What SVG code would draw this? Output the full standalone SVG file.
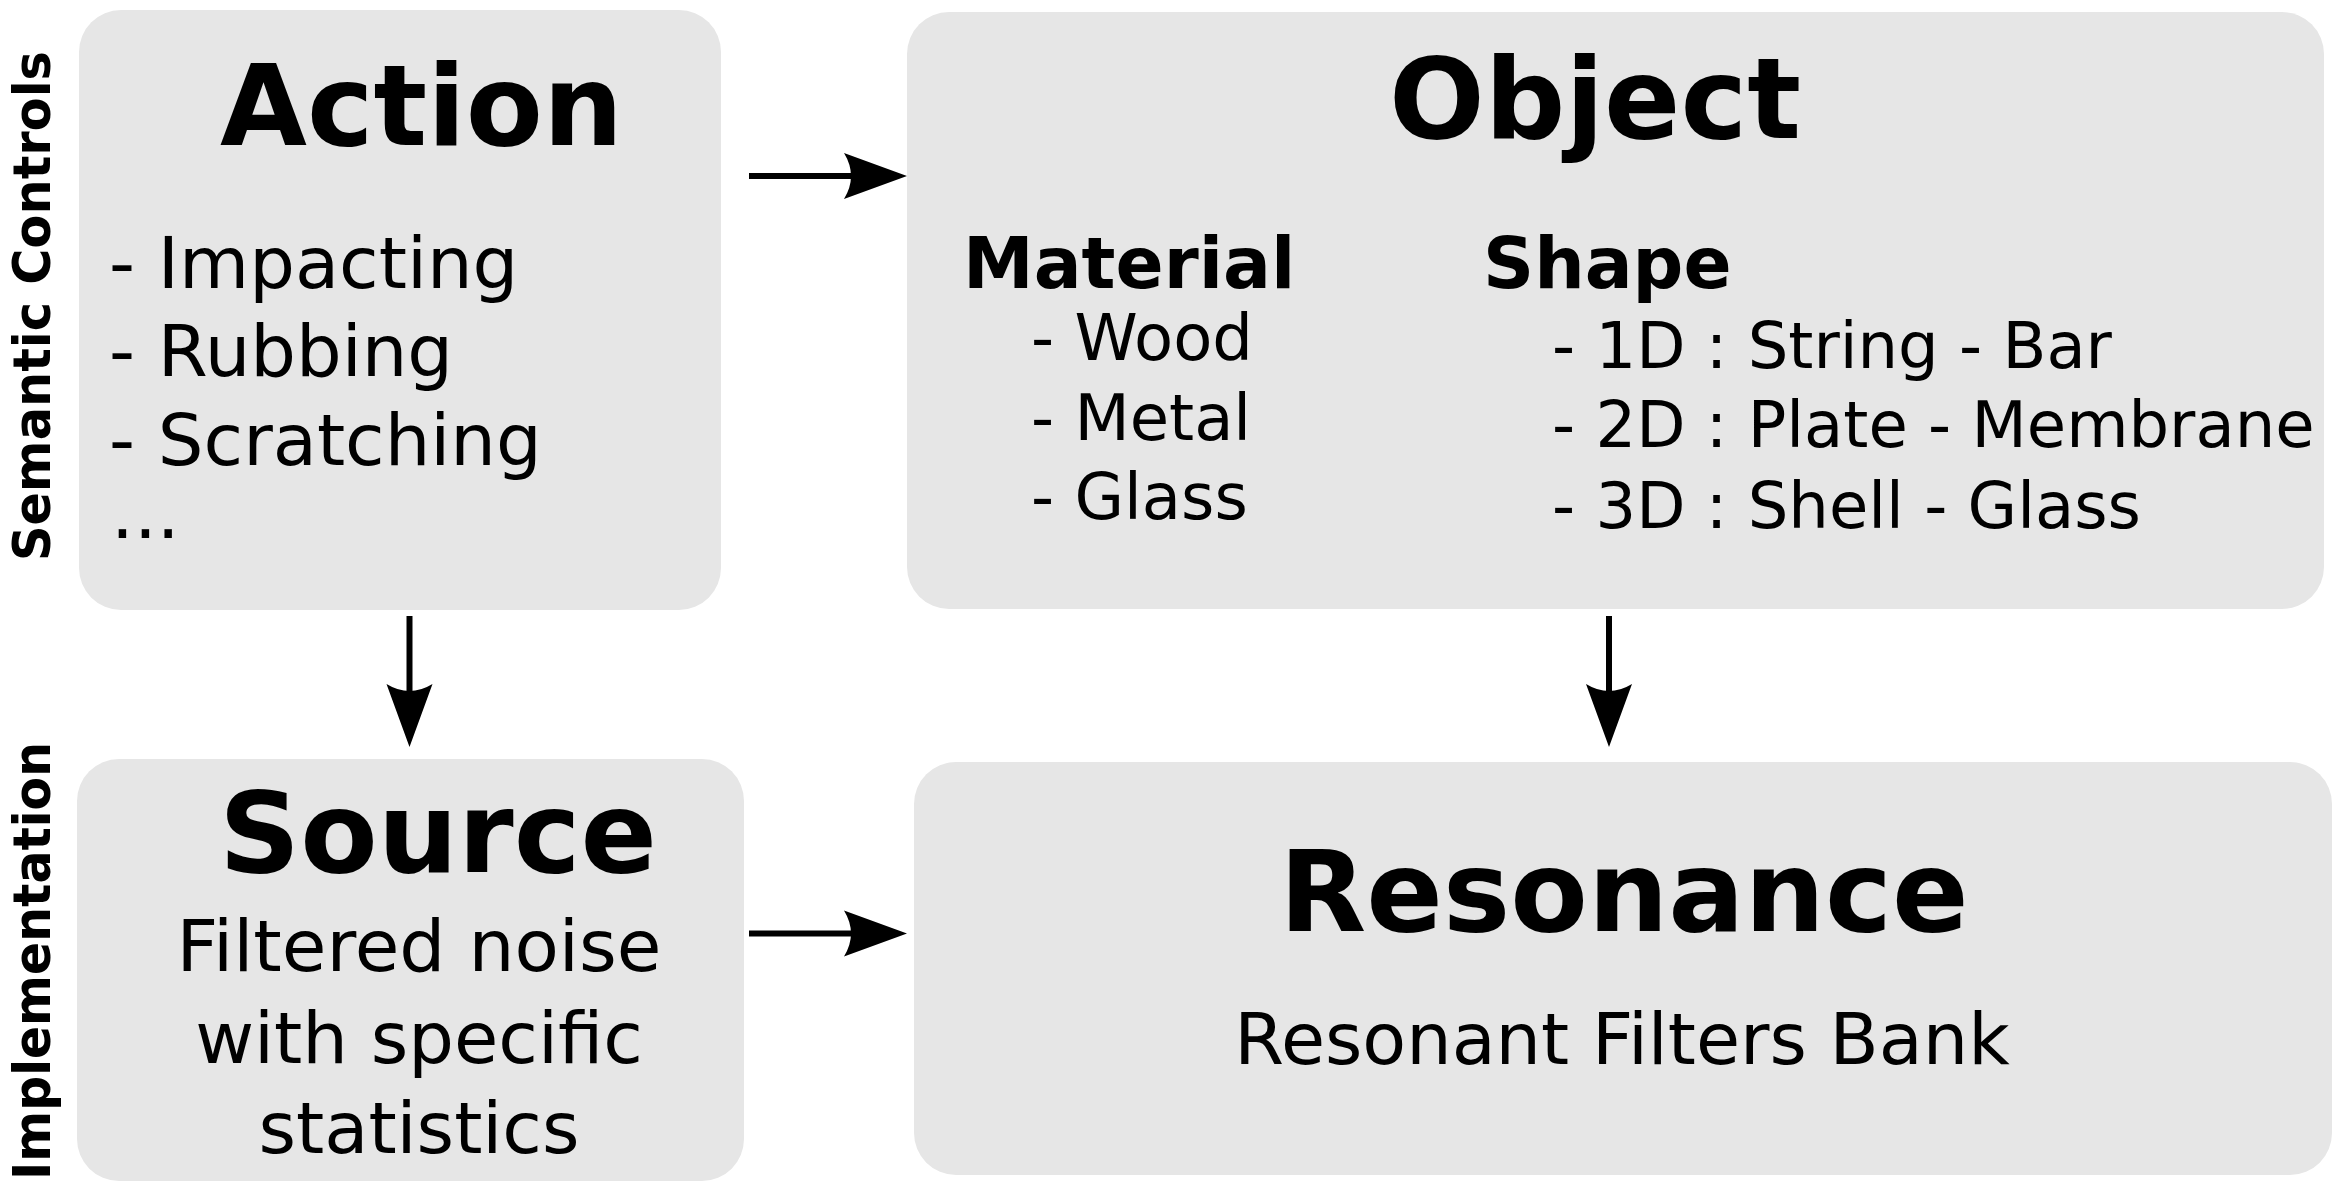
<svg xmlns="http://www.w3.org/2000/svg" xmlns:xlink="http://www.w3.org/1999/xlink" width="2346" height="1200" viewBox="0 0 2346 1200">
  <style>
    .box { fill: #e6e6e6; }
    text { font-family: "DejaVu Sans", "Liberation Sans", sans-serif; fill: #000; }
    .title { font-size: 113px; font-weight: bold; }
    .side { font-size: 51px; font-weight: bold; }
    .item { font-size: 72px; }
    .sub { font-size: 71px; font-weight: bold; }
    .small { font-size: 64px; }
    .line { stroke: #000; stroke-width: 6; fill: none; }
  </style>
  <defs>
    <path id="head" d="M0,0 L-63,-23 Q-49,0 -63,23 Z" fill="#000"/>
  </defs>
  <rect width="2346" height="1200" fill="#fff"/>

  <text class="side" transform="translate(50,306) rotate(-90)" text-anchor="middle" textLength="510" lengthAdjust="spacingAndGlyphs">Semantic Controls</text>
  <text class="side" transform="translate(50,961) rotate(-90)" text-anchor="middle" textLength="438" lengthAdjust="spacingAndGlyphs">Implementation</text>

  <g id="action">
    <rect class="box" x="79" y="10" width="642" height="600" rx="42" ry="42"/>
    <text class="title" x="220" y="145" textLength="403" lengthAdjust="spacingAndGlyphs">Action</text>
    <text class="item" x="109" y="288">- Impacting</text>
    <text class="item" x="109" y="376">- Rubbing</text>
    <text class="item" x="109" y="465">- Scratching</text>
    <text class="item" x="111" y="538">...</text>
  </g>

  <g id="object">
    <rect class="box" x="907" y="12" width="1417" height="597" rx="42" ry="42"/>
    <text class="title" x="1389" y="138" textLength="412" lengthAdjust="spacingAndGlyphs">Object</text>
    <text class="sub" x="963" y="288">Material</text>
    <text class="sub" x="1483" y="288">Shape</text>
    <text class="small" x="1031" y="360">- Wood</text>
    <text class="small" x="1031" y="440">- Metal</text>
    <text class="small" x="1031" y="519">- Glass</text>
    <text class="small" x="1552" y="368">- 1D : String - Bar</text>
    <text class="small" x="1552" y="447">- 2D : Plate - Membrane</text>
    <text class="small" x="1552" y="528">- 3D : Shell - Glass</text>
  </g>

  <g id="source">
    <rect class="box" x="77" y="759" width="667" height="422" rx="42" ry="42"/>
    <text class="title" x="438" y="872" text-anchor="middle" textLength="438" lengthAdjust="spacingAndGlyphs">Source</text>
    <text class="item" x="419" y="971" text-anchor="middle" textLength="485" lengthAdjust="spacingAndGlyphs">Filtered noise</text>
    <text class="item" x="419" y="1063" text-anchor="middle">with specific</text>
    <text class="item" x="419" y="1153" text-anchor="middle">statistics</text>
  </g>

  <g id="resonance">
    <rect class="box" x="914" y="762" width="1418" height="413" rx="42" ry="42"/>
    <text class="title" x="1624" y="931" text-anchor="middle">Resonance</text>
    <text class="item" x="1622" y="1064" text-anchor="middle" style="font-size:71.7px">Resonant Filters Bank</text>
  </g>

  <g id="connectors">
    <line class="line" x1="749" y1="176" x2="852" y2="176"/>
    <use xlink:href="#head" href="#head" transform="translate(907,176)"/>
    <line class="line" x1="749" y1="933.5" x2="852" y2="933.5"/>
    <use xlink:href="#head" href="#head" transform="translate(907,933.5)"/>
    <line class="line" x1="409.5" y1="616" x2="409.5" y2="692"/>
    <use xlink:href="#head" href="#head" transform="translate(409.5,747) rotate(90)"/>
    <line class="line" x1="1609" y1="616" x2="1609" y2="692"/>
    <use xlink:href="#head" href="#head" transform="translate(1609,747) rotate(90)"/>
  </g>
</svg>
